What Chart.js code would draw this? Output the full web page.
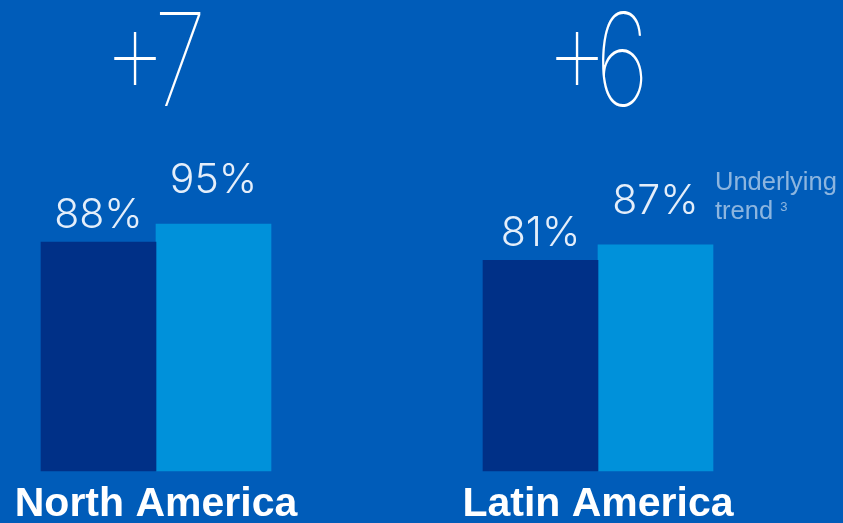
<!DOCTYPE html>
<html>
<head>
<meta charset="utf-8">
<script src="https://cdn.jsdelivr.net/npm/chart.js@4/dist/chart.umd.min.js"></script>
<style>
    html, body { margin: 0; padding: 0; background: #005cb9; }
    #wrap { width: 843px; height: 523px; }
</style>
</head>
<body>
<div id="wrap"><canvas id="regionChart" width="843" height="523"></canvas></div>
<script>
const regions = ["North America", "Latin America"];
const reportedValues = [88, 81];
const trendValues = [95, 87];
const changeLabels = ["+7", "+6"];
const noteLines = ["Underlying", "trend"];

document.addEventListener("DOMContentLoaded", function () {
    const ctx = document.getElementById("regionChart").getContext("2d");

    // Hintergrund, Differenzen, Prozentwerte und Fussnote
    const labelPlugin = {
        id: "labelPlugin",
        beforeDraw(chart) {
            const c = chart.ctx;
            c.save();
            c.fillStyle = "#005cb9";
            c.fillRect(0, 0, chart.width, chart.height);
            c.restore();
        },
        afterDatasetsDraw(chart) {
            const c = chart.ctx;
            const xScale = chart.scales.x;
            c.save();
            c.fillStyle = "#ffffff";
            c.textBaseline = "alphabetic";

            // duenne Ziffern, Vorzeichen etwas hoeher
            c.font = "100 129px Inter";
            c.textAlign = "left";
            changeLabels.forEach((txt, i) => {
                const cx = xScale.getPixelForValue(i);
                const sign = txt.slice(0, 1);
                const num = txt.slice(1);

                c.save();
                c.translate(cx, 95);
                c.scale(0.78, 1);
                const m = c.measureText(sign);
                c.fillText(sign, -m.actualBoundingBoxRight, 0);
                c.restore();

                c.save();
                c.translate(cx + 4, 106);
                c.scale(0.74, 1);
                const n = c.measureText(num);
                c.fillText(num, n.actualBoundingBoxLeft, 0);
                c.restore();
            });

            const offsets = [14, 31];
            c.textAlign = "center";
            c.font = "300 41px Inter";
            c.fillStyle = "#e4eefa";
            chart.data.datasets.forEach((ds, d) => {
                chart.getDatasetMeta(d).data.forEach((bar, i) => {
                    c.fillText(ds.data[i] + "%", bar.x, bar.y - offsets[d]);
                });
            });

            const lastBar = chart.getDatasetMeta(1).data[regions.length - 1];
            const nx = lastBar.x + lastBar.width / 2 + 2;
            c.textAlign = "left";
            c.fillStyle = "rgba(255,255,255,0.55)";
            c.font = "25.5px 'Liberation Sans'";
            c.fillText(noteLines[0], nx, 190);
            c.fillText(noteLines[1], nx, 219);
            const w = c.measureText(noteLines[1] + " ").width;
            c.font = "13px 'Liberation Sans'";
            c.fillText("3", nx + w, 211);
            c.restore();
        }
    };

    new Chart(ctx, {
        type: "bar",
        data: {
            labels: regions,
            datasets: [
                {
                    label: "Reported",
                    data: reportedValues,
                    backgroundColor: "#003087",
                    barThickness: 115,
                    clip: false
                },
                {
                    label: "Underlying trend",
                    data: trendValues,
                    backgroundColor: "#0091da",
                    barThickness: 115,
                    clip: false
                }
            ]
        },
        options: {
            responsive: false,
            animation: false,
            layout: {
                padding: { left: 156, right: 245, top: 211, bottom: -7 }
            },
            plugins: {
                legend: { display: false },
                tooltip: { enabled: false }
            },
            scales: {
                x: {
                    offset: false,
                    grid: { display: false },
                    border: { display: false },
                    ticks: {
                        color: "#ffffff",
                        padding: 1,
                        autoSkip: false,
                        maxRotation: 0,
                        font: { family: "'Liberation Sans'", size: 41, weight: "bold" }
                    }
                },
                y: {
                    display: false,
                    min: 0,
                    max: 100
                }
            }
        },
        plugins: [labelPlugin]
    });
});
</script>
</body>
</html>
